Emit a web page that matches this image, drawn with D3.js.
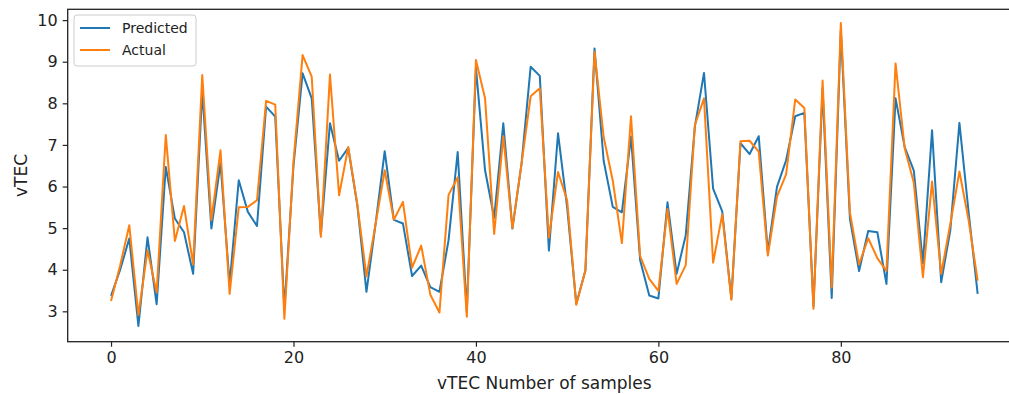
<!DOCTYPE html>
<html><head><meta charset="utf-8">
<script src="https://cdn.jsdelivr.net/npm/d3@7"></script>
<style>body{margin:0;background:#fff;} svg{display:block;}</style>
</head><body>
<svg id="chart" width="1009" height="394"></svg>
<script>
const samples = d3.range(96);
const predicted = [3.37,4.0,4.75,2.65,4.78,3.17,6.47,5.23,4.9,3.9,
8.3,4.99,6.56,3.65,6.15,5.39,5.05,7.92,7.68,3.05,
6.5,8.72,8.12,4.85,7.52,6.62,6.93,5.55,3.47,5.1,
6.85,5.2,5.11,3.85,4.1,3.58,3.47,4.71,6.83,3.0,
8.85,6.39,5.25,7.52,4.99,6.55,8.88,8.66,4.46,7.28,
5.5,3.18,3.98,9.32,6.62,5.51,5.38,7.2,4.23,3.38,
3.31,5.62,3.9,4.83,7.44,8.73,5.95,5.4,3.3,7.04,
6.78,7.21,4.42,5.99,6.63,7.69,7.77,3.12,8.35,3.32,
9.75,5.22,3.97,4.93,4.9,3.66,8.12,6.95,6.38,4.15,
7.35,3.7,4.95,7.53,5.4,3.42];
const actual = [3.25,4.1,5.07,2.91,4.47,3.45,7.24,4.69,5.53,4.13,
8.68,5.19,6.87,3.42,5.5,5.51,5.67,8.06,7.97,2.82,
6.6,9.16,8.64,4.79,8.69,5.79,6.95,5.57,3.84,5.1,
6.39,5.2,5.63,4.05,4.58,3.4,2.97,5.8,6.22,2.87,
9.04,8.12,4.86,7.21,5.0,6.55,8.17,8.36,4.77,6.35,
5.67,3.16,3.98,9.24,7.19,6.14,4.64,7.69,4.33,3.78,
3.49,5.46,3.66,4.11,7.48,8.12,4.17,5.33,3.28,7.09,
7.1,6.84,4.34,5.76,6.29,8.09,7.89,3.06,8.55,3.57,
9.93,5.37,4.13,4.76,4.28,3.97,8.96,6.92,6.09,3.82,
6.12,3.9,5.1,6.36,5.2,3.74];
const xTicks = [0,20,40,60,80];
const yTicks = [3,4,5,6,7,8,9,10];
const seriesNames = ["Predicted","Actual"];
const colors = ["#1f77b4","#ff7f0e"];

const svg = d3.select("#chart");
const L = 67.7, R = 1021, T = 9.3, B = 341.7;
const x = d3.scaleLinear().domain([-4.75, 99.75]).range([L, R]);
const y = d3.scaleLinear().domain([2.27, 10.26]).range([B, T]);
const font = "DejaVu Sans, sans-serif";

const gx = svg.append("g").attr("transform", `translate(0,${B})`)
  .call(d3.axisBottom(x).tickValues(xTicks).tickSize(5).tickPadding(5).tickFormat(d3.format("d")));
const gy = svg.append("g").attr("transform", `translate(${L},0)`)
  .call(d3.axisLeft(y).tickValues(yTicks).tickSize(5).tickPadding(5).tickFormat(d3.format("d")));
[gx, gy].forEach(g => {
  g.select(".domain").remove();
  g.selectAll("line").attr("stroke", "#222").attr("stroke-width", 1.2);
  g.selectAll("text").attr("font-family", font).attr("font-size", 16).attr("fill", "#222");
});

const line = d3.line().x((d, i) => x(samples[i])).y(d => y(d));
[predicted, actual].forEach((s, k) => {
  svg.append("path").datum(s).attr("d", line).attr("fill", "none")
    .attr("stroke", colors[k]).attr("stroke-width", 2).attr("stroke-linejoin", "round");
});

svg.append("rect").attr("x", L).attr("y", T).attr("width", R - L).attr("height", B - T)
  .attr("fill", "none").attr("stroke", "#222").attr("stroke-width", 1.3);

svg.append("text").attr("x", (L + R) / 2).attr("y", 389).attr("text-anchor", "middle")
  .attr("font-family", font).attr("font-size", 17).attr("fill", "#222").text("vTEC Number of samples");
svg.append("text").attr("transform", `translate(27,${(T + B) / 2}) rotate(-90)`).attr("text-anchor", "middle")
  .attr("font-family", font).attr("font-size", 17).attr("fill", "#222").text("vTEC");

const lg = svg.append("g").attr("transform", "translate(74,15)");
lg.append("rect").attr("width", 122).attr("height", 51).attr("rx", 3)
  .attr("fill", "#fff").attr("fill-opacity", 0.8).attr("stroke", "#ccc").attr("stroke-width", 1);
seriesNames.forEach((n, k) => {
  const cy = 13 + k * 22;
  lg.append("line").attr("x1", 6).attr("x2", 36).attr("y1", cy).attr("y2", cy)
    .attr("stroke", colors[k]).attr("stroke-width", 2);
  lg.append("text").attr("x", 48).attr("y", cy).attr("dy", "0.35em")
    .attr("font-family", font).attr("font-size", 14).attr("fill", "#222").text(n);
});
</script>
</body></html>
